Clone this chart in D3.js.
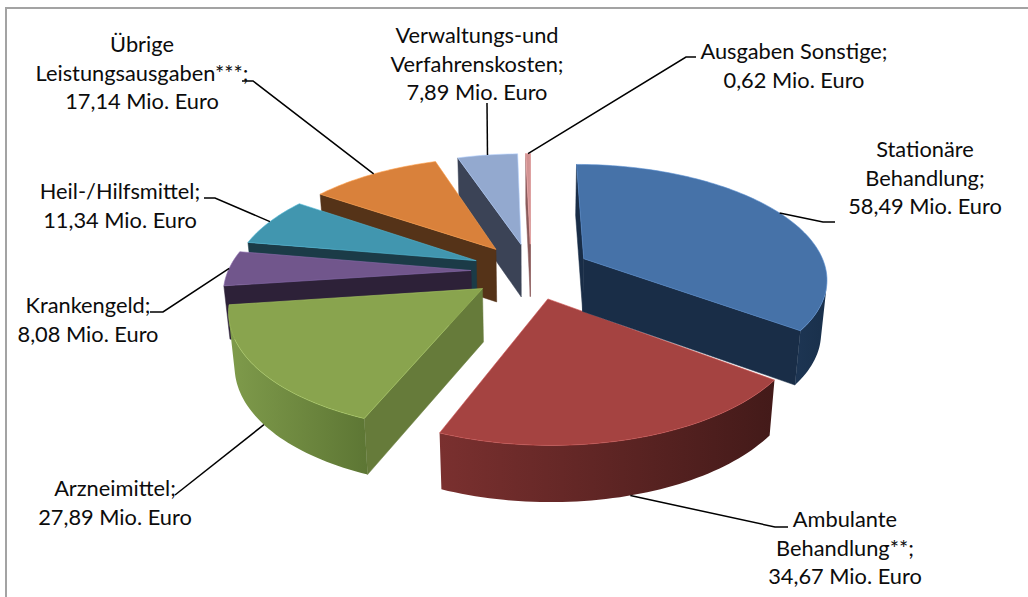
<!DOCTYPE html>
<html>
<head>
<meta charset="utf-8">
<script src="https://cdnjs.cloudflare.com/ajax/libs/d3/7.8.5/d3.min.js"></script>
<style>
  html, body { margin: 0; padding: 0; background: #fff; }
  text { font-family: Lato, "Open Sans", sans-serif; font-size: 21.8px; fill: #0c0c0c; }
</style>
</head>
<body>
<svg id="chart" width="1028" height="597"></svg>
<script>
// values in Mio. Euro, clockwise from the top
var categories = ["Stationäre Behandlung", "Ambulante Behandlung", "Arzneimittel", "Krankengeld",
                  "Heil-/Hilfsmittel", "Übrige Leistungsausgaben", "Verwaltungs-und Verfahrenskosten", "Ausgaben Sonstige"];
var values = [58.49, 34.67, 27.89, 8.08, 11.34, 17.14, 7.89, 0.62];

var label_lines = [
    ["Stationäre", "Behandlung;", "58,49 Mio. Euro"],
    ["Ambulante", "Behandlung**;", "34,67 Mio. Euro"],
    ["Arzneimittel;", "27,89 Mio. Euro"],
    ["Krankengeld;", "8,08 Mio. Euro"],
    ["Heil-/Hilfsmittel;", "11,34 Mio. Euro"],
    ["Übrige", "Leistungsausgaben***;", "17,14 Mio. Euro"],
    ["Verwaltungs-und", "Verfahrenskosten;", "7,89 Mio. Euro"],
    ["Ausgaben Sonstige;", "0,62 Mio. Euro"]
];

var top_colors = ["#4672a8", "#a54341", "#89a44e", "#71568c", "#4196af", "#d9813b", "#93a9cf", "#d19392"];
var wall_colors = ["#192d47", "#4a1d1c", "#667b3a", "#2d2138", "#1b3b47", "#553318", "#3b4356", "#8a5a5a"];
var arc_left = ["#1d3553", "#7a302f", "#7f9b4b", "#3a2b4a", "#26505f", "#6e4420", "#4c5770", "#a06c6c"];
var arc_right = ["#19304b", "#431a19", "#5d7634", "#2d2138", "#1b3b47", "#553318", "#3b4356", "#8a5a5a"];

// label anchor [center x, first baseline] and the elbow of the leader line
var label_pos = [[925, 157], [845, 527], [115, 496], [88, 313], [120, 199], [142, 52], [477, 43], [794, 59]];
var elbow = [[[823, 222], [835, 222]], [[775, 527], [788, 527]], [[175, 495]], [[163, 312], [150, 312]],
             [[215, 198], [204, 198]], [[253, 81], [242, 81]], [[487, 103]], [[686, 57], [696, 57]]];
var leader_on_wall = [false, true, true, false, false, false, false, false];

var paint_order = [7, 6, 5, 4, 3, 2, 1, 0];

var svg = d3.select("#chart");
var defs = svg.append("defs");

svg.append("rect").attr("x", 6).attr("y", 8).attr("width", 1040).attr("height", 620)
    .attr("fill", "#fff").attr("stroke", "#a3a3a3").attr("stroke-width", 2);

var cx = 531, cy = 271, radius = 243, explode = 60, tilt = 0.465, persp = 0.16;

function scale_at(y){ return 1 / (1 - persp * y / radius); }
function to_top(p){
    var s = scale_at(p[1]);
    return [cx + p[0] * s, cy + p[1] * tilt * s];
}
function to_bottom(p){
    var s = scale_at(p[1]);
    return [cx + p[0] * s * 0.98, cy + p[1] * tilt * s + 38 + 15 * s];
}
function rim(a, r){ return [Math.sin(a) * r, -Math.cos(a) * r]; }

var arcs = d3.pie().sort(null).value(function(d){ return d; })(values);
var line = d3.line();

// signed area, used to skip the walls that face away
function area(pts){ return d3.polygonArea(pts); }

function draw_slice(i){
    var d = arcs[i];
    var mid = (d.startAngle + d.endAngle) / 2;
    var off = rim(mid, explode);
    var world = function(a, r){ var p = rim(a, r); return [p[0] + off[0], p[1] + off[1]]; };
    var g = svg.append("g");

    var steps = Math.max(2, Math.ceil((d.endAngle - d.startAngle) * 40));
    var angles = d3.range(steps + 1).map(function(k){ return d.startAngle + (d.endAngle - d.startAngle) * k / steps; });
    var edge = angles.map(function(a){ return world(a, radius); });
    var tip = off;

    // radial walls
    [[tip, edge[0]], [edge[steps], tip]].forEach(function(w){
        var quad = [to_top(w[0]), to_top(w[1]), to_bottom(w[1]), to_bottom(w[0])];
        if (area(quad) > 0) {
            g.append("path").attr("d", line(quad) + "Z")
                .attr("fill", wall_colors[i]).attr("stroke", wall_colors[i]).attr("stroke-width", 0.5);
        }
    });

    // outer wall, only the front facing stretch
    var facing = d3.range(steps).filter(function(k){
        return area([to_top(edge[k]), to_top(edge[k+1]), to_bottom(edge[k+1]), to_bottom(edge[k])]) > 0;
    });
    if (facing.length) {
        var front = facing.map(function(k){ return edge[k]; });
        front.push(edge[facing[facing.length-1] + 1]);
        var outline = front.map(to_top).concat(front.slice().reverse().map(to_bottom));
        var xs = d3.extent(outline, function(p){ return p[0]; });
        var grad = defs.append("linearGradient").attr("id", "wall" + i)
            .attr("gradientUnits", "userSpaceOnUse")
            .attr("x1", xs[0]).attr("x2", xs[1]).attr("y1", 0).attr("y2", 0);
        grad.append("stop").attr("offset", "0%").attr("stop-color", arc_left[i]);
        grad.append("stop").attr("offset", "100%").attr("stop-color", arc_right[i]);
        g.append("path").attr("d", line(outline) + "Z").attr("fill", "url(#wall" + i + ")");
    }

    // top face
    var top_pts = [tip].concat(edge).map(to_top);
    g.append("path").attr("d", line(top_pts) + "Z").attr("fill", top_colors[i])
        .attr("stroke", d3.color(top_colors[i]).brighter(0.6)).attr("stroke-width", 0.6);
}

// leader lines go under the labels, over the pie
function draw_leader(i){
    var d = arcs[i];
    var mid = (d.startAngle + d.endAngle) / 2;
    var off = rim(mid, explode);
    var p = rim(mid, radius);
    var world = [p[0] + off[0], p[1] + off[1]];
    var start = leader_on_wall[i] ? to_bottom(world) : to_top(world);
    svg.append("path")
        .attr("d", line([start].concat(elbow[i])))
        .attr("fill", "none").attr("stroke", "#000").attr("stroke-width", 1.5);
}

paint_order.forEach(draw_slice);
d3.range(values.length).forEach(draw_leader);

label_lines.forEach(function(lines, i){
    var t = svg.append("text").attr("text-anchor", "middle");
    lines.forEach(function(s, k){
        t.append("tspan").attr("x", label_pos[i][0]).attr("y", label_pos[i][1] + k * 28.7).text(s);
    });
});
</script>
</body>
</html>
